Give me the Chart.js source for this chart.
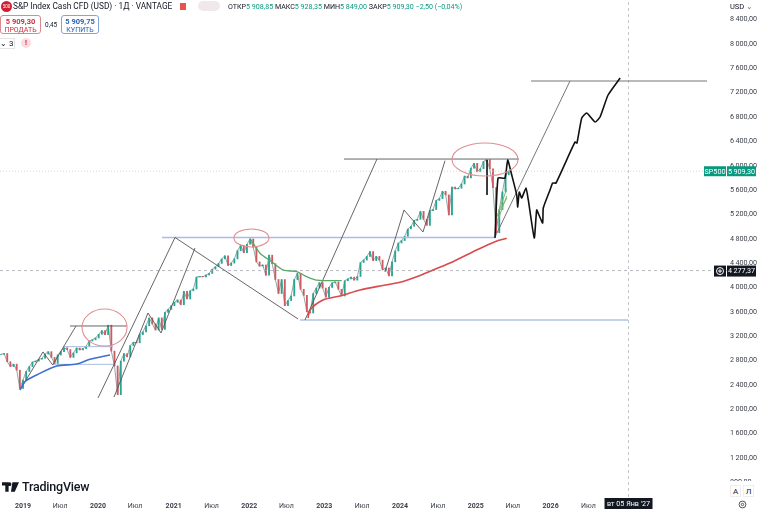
<!DOCTYPE html>
<html lang="ru">
<head>
<meta charset="utf-8">
<title>S&amp;P Index Cash CFD</title>
<script src="https://cdn.jsdelivr.net/npm/chart.js@4/dist/chart.umd.min.js"></script>
<style>
  html, body { margin: 0; padding: 0; background: #fff; }
  body { width: 758px; height: 509px; position: relative; overflow: hidden; font-family: Roboto, sans-serif; color: #131722; }
  canvas { position: absolute; left: 0; top: 0; }
  .abs { position: absolute; white-space: nowrap; }
  .up { color: #089981; }
  .box { box-sizing: border-box; border-radius: 3px; background: #fff; text-align: center; line-height: 9px; padding-top: 1px; }
  .box b { display: block; font-size: 7.5px; font-weight: 700; }
  .box span { display: block; font-size: 7px; }
</style>
</head>
<body>
<canvas id="myChart" width="758" height="509"></canvas>

<div class="abs" style="left:1px;top:1px;width:11px;height:11px;border-radius:50%;background:#d01f35;color:#fff;font-size:4.5px;line-height:11px;text-align:center;">500</div>
<div class="abs" style="left:13px;top:0;font-size:8.3px;line-height:13px;">S&amp;P Index Cash CFD (USD) · 1Д · VANTAGE</div>
<div class="abs" style="left:180px;top:3px;width:6px;height:7px;background:#e8534f;"></div>
<div class="abs" style="left:198px;top:1px;width:22px;height:10px;border-radius:5px;background:#f0e8ea;"></div>
<div class="abs" style="left:228px;top:1px;font-size:7.1px;line-height:11px;">ОТКР<span class="up">5 908,85</span> МАКС<span class="up">5 928,35</span> МИН<span class="up">5 849,00</span> ЗАКР<span class="up">5 909,30 −2,50 (−0,04%)</span></div>
<div class="abs box" style="left:0;top:15px;width:41px;height:19px;border:1px solid #d98a90;color:#c9303e;"><b>5 909,30</b><span>ПРОДАТЬ</span></div>
<div class="abs" style="left:45px;top:21px;font-size:6.5px;line-height:8px;">0,45</div>
<div class="abs box" style="left:61px;top:15px;width:38px;height:19px;border:1px solid #7fa6d8;color:#2a62b8;"><b>5 909,75</b><span>КУПИТЬ</span></div>
<div class="abs" style="left:0;top:38px;width:15px;height:11px;box-sizing:border-box;border:1px solid #e4e4e4;border-left:0;font-size:8px;line-height:9px;text-align:right;padding-right:2px;">⌄ 3</div>
<div class="abs" style="left:21px;top:38px;width:10px;height:10px;border-radius:50%;background:#fbdcdf;color:#d01f35;font-size:7px;font-weight:700;line-height:10px;text-align:center;">!</div>

<div class="abs" style="left:729px;top:0;width:27px;height:13px;font-size:7.5px;line-height:13px;padding-left:1px;">USD <span style="color:#777;">⌄</span></div>

<svg class="abs" style="left:2px;top:482px;" width="17" height="10" viewBox="0 0 36 20"><path d="M0 0h14v20H7V7H0zM22 0h14l-9 20h-8z M16 0a4 4 0 1 1 0 8a4 4 0 1 1 0-8z" fill="#131722"/></svg>
<div class="abs" style="left:22px;top:479px;font-size:12.5px;line-height:16px;font-weight:500;letter-spacing:-.2px;">TradingView</div>

<div class="abs" style="left:728px;top:481px;width:30px;height:28px;background:#fff;"></div>
<div class="abs" style="left:730px;top:485px;width:11px;height:12px;box-sizing:border-box;border:1px solid #eee;font-size:8px;line-height:11px;text-align:center;">А</div>
<div class="abs" style="left:743px;top:485px;width:11px;height:12px;box-sizing:border-box;border:1px solid #eee;font-size:8px;line-height:11px;text-align:center;">Л</div>
<svg class="abs" style="left:738px;top:500px;" width="9" height="9" viewBox="0 0 9 9"><circle cx="4.5" cy="4.5" r="3.4" fill="none" stroke="#555"/><circle cx="4.5" cy="4.5" r="1.2" fill="none" stroke="#555"/></svg>

<script>
// Axis ticks (the labels sit a little before the calendar date, bars skip weekends)
const xTickValues = [2019, 2019.49, 2019.99, 2020.48, 2020.99, 2021.49, 2021.99, 2022.48, 2022.98, 2023.48, 2023.98, 2024.48, 2024.98, 2025.47, 2025.97, 2026.47];
const xTickLabels = ['2019', 'Июл', '2020', 'Июл', '2021', 'Июл', '2022', 'Июл', '2023', 'Июл', '2024', 'Июл', '2025', 'Июл', '2026', 'Июл'];
const yTickValues = [800, 1200, 1600, 2000, 2400, 2800, 3200, 3600, 4000, 4400, 4800, 5200, 5600, 6000, 6400, 6800, 7200, 7600, 8000, 8400];

// Closes twice a month (2018 starts in mid September)
const closes2018 = [2900, 2915, 2780, 2700, 2740, 2640, 2340];
const closes2019 = [2480, 2620, 2700, 2775, 2790, 2820, 2835, 2905, 2945, 2850, 2750, 2890, 2945, 3010, 2980, 2850, 2925, 3005, 2975, 2995, 3035, 3120, 3140, 3170];
const closes2020 = [3230, 3290, 3225, 3380, 2954, 2711, 2237, 2790, 2912, 2860, 3045, 3100, 3090, 3225, 3270, 3370, 3500, 3400, 3300, 3500, 3310, 3590, 3640, 3700];
const closes2021 = [3756, 3795, 3715, 3935, 3810, 3945, 3975, 4170, 4180, 4175, 4205, 4230, 4300, 4340, 4395, 4470, 4520, 4360, 4400, 4470, 4605, 4690, 4570, 4710];
const closes2022 = [4796, 4660, 4420, 4350, 4370, 4200, 4530, 4390, 4130, 3900, 4130, 3700, 3785, 3860, 4130, 4230, 3970, 3870, 3600, 3580, 3900, 3990, 4080, 3990];
const closes2023 = [3840, 4000, 4075, 4090, 3970, 3860, 4110, 4140, 4170, 4120, 4180, 4410, 4450, 4510, 4590, 4440, 4510, 4450, 4290, 4320, 4190, 4420, 4600, 4730];
const closes2024 = [4770, 4840, 4960, 5005, 5100, 5120, 5250, 5120, 5020, 5260, 5280, 5430, 5460, 5580, 5520, 5190, 5650, 5620, 5630, 5700, 5830, 5800, 5960, 6040];
const closes2025 = [5900, 5950, 6070, 6100, 5950, 5640, 4900, 5280, 5570, 5850, 5909];
const priceMonths = [closes2018, closes2019, closes2020, closes2021, closes2022, closes2023, closes2024, closes2025];

// Moving averages
const blueMaX = [2018.96, 2019.026, 2019.181, 2019.445, 2019.709, 2019.885, 2020.149];
const blueMaY = [2315, 2452, 2562, 2709, 2742, 2820, 2890];
const greenMaX = [2021.999, 2022.131, 2022.285, 2022.439, 2022.616, 2022.748, 2022.88, 2023.21];
const greenMaY = [4808, 4561, 4423, 4287, 4259, 4177, 4122, 4111];
const redMaX = [2022.765, 2022.791, 2022.963, 2023.188, 2023.452, 2023.716, 2023.98, 2024.192, 2024.416, 2024.68, 2024.993, 2025.235, 2025.39];
const redMaY = [3498, 3630, 3794, 3860, 3958, 4024, 4085, 4172, 4287, 4423, 4615, 4752, 4808];

// Hand drawn forecast
const forecastX = [2025.235, 2025.275, 2025.367, 2025.403, 2025.456, 2025.522, 2025.535, 2025.556, 2025.588, 2025.645, 2025.675, 2025.754, 2025.786, 2025.816, 2025.865, 2025.873, 2025.962, 2025.997, 2026.041, 2026.292, 2026.318, 2026.381, 2026.447, 2026.557, 2026.623, 2026.729, 2026.888];
const forecastY = [4812, 5798, 5798, 6094, 5848, 5519, 5322, 5568, 5470, 5634, 5437, 4812, 5273, 5190, 5059, 5305, 5601, 5716, 5716, 6390, 6373, 6784, 6866, 6718, 6801, 7162, 7441];
const spikeX = [2025.13, 2025.13];
const spikeY = [6094, 5519];

// Trend lines
const zig2019X = [2018.96, 2019.264, 2019.392, 2019.7];
const zig2019Y = [2315, 2940, 2726, 3367];
const level2019X = [2019.621, 2020.374];
const level2019Y = [3367, 3367];
const rise2020X = [2019.991, 2021.008];
const rise2020Y = [2184, 4821];
const fall2021X = [2021.008, 2022.633];
const fall2021Y = [4821, 3482];
const zig2020X = [2020.202, 2020.651, 2020.823, 2021.272];
const zig2020Y = [2200, 3580, 3252, 4648];
const rise2023X = [2022.725, 2023.676];
const rise2023Y = [3465, 6110];
const level2025X = [2023.24, 2025.552];
const level2025Y = [6110, 6110];
const zig2024X = [2023.782, 2024.033, 2024.284, 2024.575];
const zig2024Y = [4254, 5273, 4911, 6083];
const rise2026X = [2025.235, 2026.226];
const rise2026Y = [4828, 7392];
const level2026X = [2025.711, 2028.036];
const level2026Y = [7392, 7392];

// Light blue levels
const blueLevel1X = [2019.528, 2020.189];
const blueLevel1Y = [3027, 3027];
const blueLevel2X = [2019.383, 2020.189];
const blueLevel2Y = [2737, 2737];
const blueLevel3X = [2020.836, 2025.235];
const blueLevel3Y = [4821, 4821];
const blueLevel4X = [2022.659, 2026.992];
const blueLevel4Y = [3465, 3465];

// Green fan under the last swing
const fan1X = [2025.261, 2025.39];
const fan1Y = [5163, 5618];
const fan2X = [2025.274, 2025.39];
const fan2Y = [5108, 5503];
const fan3X = [2025.301, 2025.394];
const fan3Y = [5273, 5470];

// Ellipses: centre year, centre price, half width in years, half height in price
const ellipseYears = [2020.077, 2022.018, 2025.103];
const ellipsePrices = [3342, 4813, 6102];
const ellipseHalfYears = [0.297, 0.231, 0.436];
const ellipseHalfPrices = [304, 148, 271];

const lastPrice = 5909.3;
const crossPrice = 4277.37;
const crossYear = 2026.999;
const crossDate = "вт 05 Янв '27";
const xMin = 2018.696;
const xMax = 2028.3;
const yMin = 557;
const yMax = 8723;

function formatPrice(value) {
    const parts = value.toFixed(2).split('.');
    return parts[0].replace(/\B(?=(\d{3})+$)/g, '\u2009') + ',' + parts[1];
}

function pairs(xs, ys) {
    return xs.map((x, i) => ({ x: x, y: ys[i] }));
}

function lineSet(xs, ys, color, width, dash, tension) {
    return {
        type: 'line',
        data: pairs(xs, ys),
        borderColor: color,
        borderWidth: width,
        borderDash: dash || [],
        pointRadius: 0,
        tension: tension || 0,
        order: 1
    };
}

// Candles: each bar runs from the previous close to its own close
const candleData = [];
const candleColors = [];
const closeLine = [];
let previous = closes2018[0];
priceMonths.forEach((closes, n) => {
    const year = 2018 + n;
    const first = n === 0 ? 17 : 0;
    closes.forEach((close, i) => {
        const x = year + (first + i) / 24;
        candleData.push({ x: x, y: [previous, close] });
        candleColors.push(close >= previous ? '#2aa492' : '#cf5a62');
        closeLine.push({ x: x, y: close });
        previous = close;
    });
});

// Ellipses, price tags and the date pill
const overlayPlugin = {
    id: 'overlay',
    afterDatasetsDraw(chart) {
        const ctx = chart.ctx;
        const xs = chart.scales.x;
        const ys = chart.scales.y;
        ctx.save();
        ctx.strokeStyle = '#e08f92';
        ctx.lineWidth = 1.1;
        ellipseYears.forEach((year, i) => {
            const cx = xs.getPixelForValue(year);
            const cy = ys.getPixelForValue(ellipsePrices[i]);
            const rx = xs.getPixelForValue(year + ellipseHalfYears[i]) - cx;
            const ry = cy - ys.getPixelForValue(ellipsePrices[i] + ellipseHalfPrices[i]);
            ctx.beginPath();
            ctx.ellipse(cx, cy, rx, ry, 0, 0, Math.PI * 2);
            ctx.stroke();
        });

        ctx.lineWidth = 1;
        ctx.font = '7.2px Roboto';
        ctx.textBaseline = 'middle';
        ctx.textAlign = 'center';

        // last price tag
        const lastY = ys.getPixelForValue(lastPrice);
        ctx.fillStyle = '#089981';
        ctx.fillRect(704, lastY - 5, 22, 10);
        ctx.fillRect(727, lastY - 5, 29, 10);
        ctx.fillStyle = '#fff';
        ctx.fillText('SP500', 715, lastY + 0.5);
        ctx.fillText(formatPrice(lastPrice), 741.5, lastY + 0.5);

        // crosshair price tag
        const crossY = ys.getPixelForValue(crossPrice);
        ctx.fillStyle = '#131722';
        ctx.fillRect(714, crossY - 5, 12, 11);
        ctx.fillRect(727, crossY - 5, 29, 11);
        ctx.fillStyle = '#fff';
        ctx.fillText(formatPrice(crossPrice), 741.5, crossY + 0.5);
        ctx.strokeStyle = '#fff';
        ctx.beginPath();
        ctx.arc(720, crossY + 0.5, 3.5, 0, Math.PI * 2);
        ctx.moveTo(718, crossY + 0.5);
        ctx.lineTo(722, crossY + 0.5);
        ctx.moveTo(720, crossY - 1.5);
        ctx.lineTo(720, crossY + 2.5);
        ctx.stroke();

        // crosshair date pill
        const crossX = xs.getPixelForValue(crossYear);
        ctx.fillStyle = '#131722';
        ctx.fillRect(crossX - 24, 498, 48, 11);
        ctx.fillStyle = '#fff';
        ctx.fillText(crossDate, crossX, 504);
        ctx.restore();
    }
};

// The axes keep no margin for half a label, so the plot fills the page
function dropPadding(scale) {
    scale.paddingTop = 0;
    scale.paddingBottom = 0;
    scale.paddingLeft = 0;
    scale.paddingRight = 0;
}

// Years are bold, months are not
function isYearTick(context) {
    return context.tick && xTickLabels[xTickValues.indexOf(context.tick.value)] !== 'Июл';
}

const ctx = document.getElementById('myChart').getContext('2d');
new Chart(ctx, {
    type: 'bar',
    data: {
        datasets: [
            lineSet(spikeX, spikeY, '#222', 1),
            lineSet(forecastX, forecastY, '#111', 1.6, null, 0.15),
            lineSet(fan1X, fan1Y, '#7cb86c', 1),
            lineSet(fan2X, fan2Y, '#7cb86c', 1),
            lineSet(fan3X, fan3Y, '#7cb86c', 1),
            lineSet(blueMaX, blueMaY, '#3f6fd0', 1.6, null, 0.3),
            lineSet(greenMaX, greenMaY, '#5aa866', 1.3, null, 0.3),
            lineSet(redMaX, redMaY, '#d84a4c', 1.6, null, 0.3),
            lineSet(zig2019X, zig2019Y, '#555', 0.9),
            lineSet(level2019X, level2019Y, '#555', 0.9),
            lineSet(rise2020X, rise2020Y, '#555', 0.9),
            lineSet(fall2021X, fall2021Y, '#555', 0.9),
            lineSet(zig2020X, zig2020Y, '#555', 0.9),
            lineSet(rise2023X, rise2023Y, '#555', 0.9),
            lineSet(level2025X, level2025Y, '#666', 1),
            lineSet(zig2024X, zig2024Y, '#555', 0.9),
            lineSet(rise2026X, rise2026Y, '#666', 0.9),
            lineSet(level2026X, level2026Y, '#777', 1.1),
            lineSet(blueLevel1X, blueLevel1Y, '#a9bde2', 1),
            lineSet(blueLevel2X, blueLevel2Y, '#a9bde2', 1),
            lineSet(blueLevel3X, blueLevel3Y, '#a6bceb', 1.4),
            lineSet(blueLevel4X, blueLevel4Y, '#8aa4d8', 1.2),
            lineSet([crossYear, crossYear], [yMin, yMax], '#b5b8bf', 0.8, [3, 3]),
            lineSet([xMin, xMax], [crossPrice, crossPrice], '#a5a8ae', 0.8, [3, 3]),
            lineSet([xMin, xMax], [lastPrice, lastPrice], '#a8ddd2', 0.8, [1, 2]),
            {
                type: 'bar',
                data: candleData,
                backgroundColor: candleColors,
                barThickness: 1.2,
                grouped: false,
                order: 2
            },
            {
                type: 'line',
                data: closeLine,
                borderColor: '#4d6b67',
                borderWidth: 0.6,
                pointRadius: 0,
                order: 3
            }
        ]
    },
    options: {
        responsive: false,
        animation: false,
        layout: { padding: 0 },
        plugins: {
            legend: { display: false },
            tooltip: { enabled: false }
        },
        scales: {
            x: {
                type: 'linear',
                offset: false,
                min: xMin,
                max: xMax,
                afterBuildTicks: scale => { scale.ticks = xTickValues.map(v => ({ value: v })); },
                afterFit: scale => { scale.height = 12; dropPadding(scale); },
                grid: { display: false, drawTicks: false },
                border: { display: false },
                ticks: {
                    autoSkip: false,
                    maxRotation: 0,
                    padding: 5,
                    color: '#3a3e49',
                    font: context => ({ family: 'Roboto', size: 7, weight: isYearTick(context) ? '700' : '400' }),
                    callback: value => xTickLabels[xTickValues.indexOf(value)]
                }
            },
            y: {
                type: 'linear',
                position: 'right',
                min: yMin,
                max: yMax,
                afterBuildTicks: scale => { scale.ticks = yTickValues.map(v => ({ value: v })); },
                afterFit: scale => { scale.width = 31; dropPadding(scale); },
                grid: { display: false, drawTicks: false },
                border: { display: false },
                ticks: {
                    autoSkip: false,
                    padding: 3,
                    color: '#3a3e49',
                    font: { family: 'Roboto', size: 7.2 },
                    callback: value => formatPrice(value)
                }
            }
        }
    },
    plugins: [overlayPlugin]
});
</script>
</body>
</html>
